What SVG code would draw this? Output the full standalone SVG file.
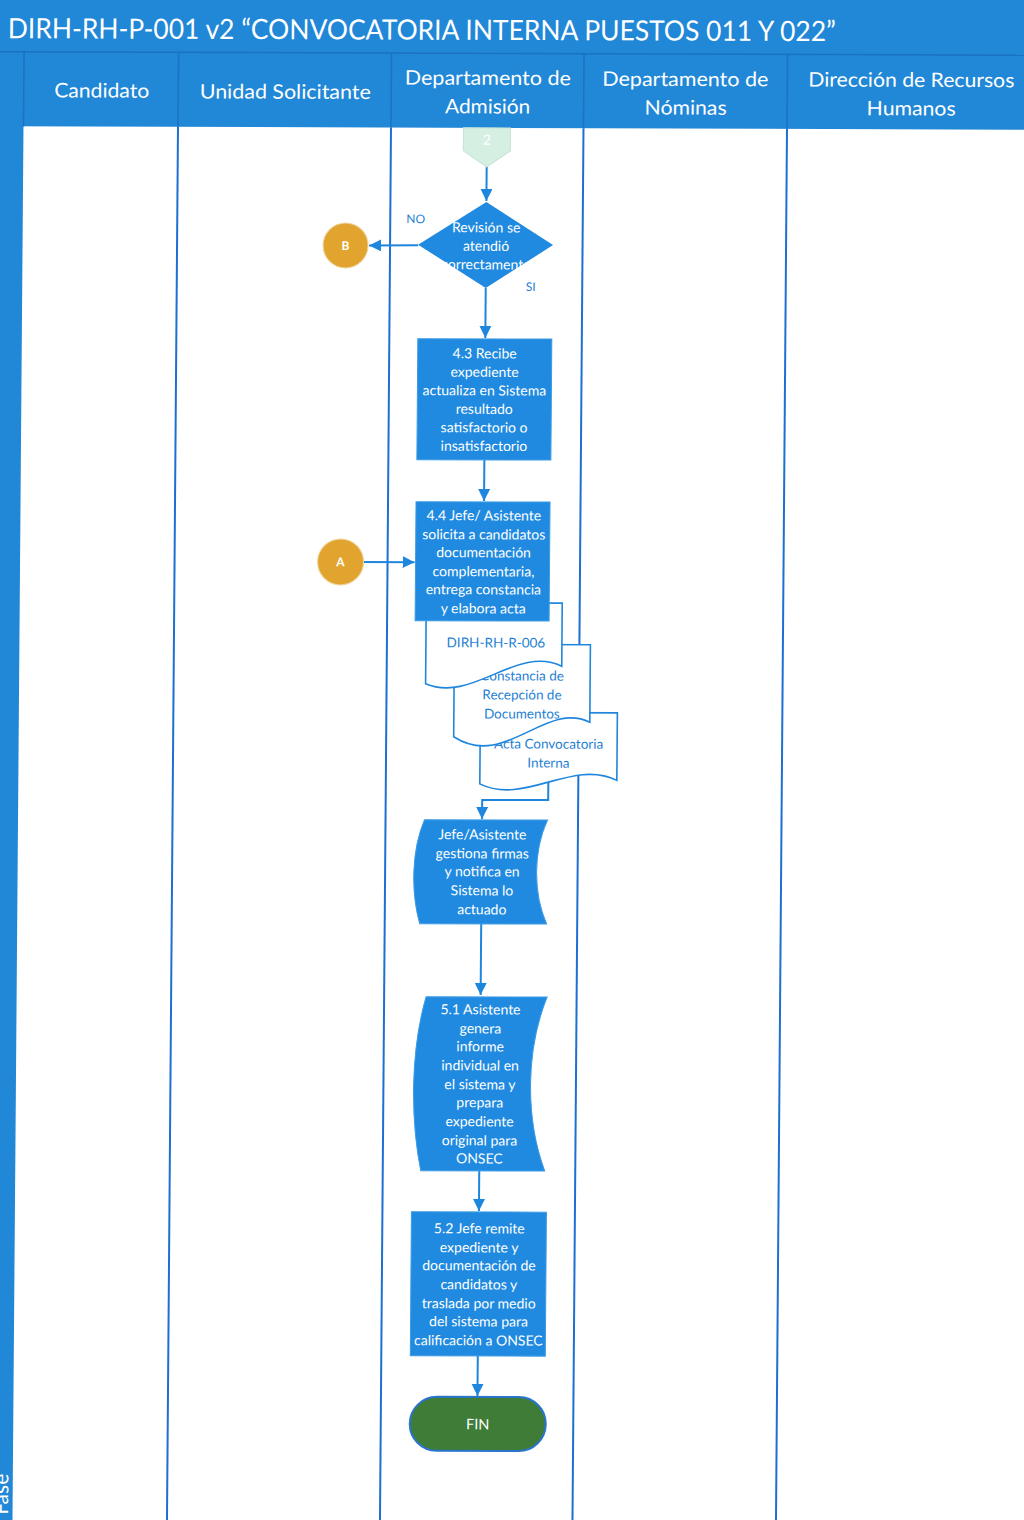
<svg xmlns="http://www.w3.org/2000/svg" width="1024" height="1520" viewBox="0 0 1024 1520">
  <style>
    .band { fill: #2187d7; }
    .hsep { stroke: #1a72c2; stroke-width: 1.5; fill: none; }
    .lane { stroke: #1d6fd2; stroke-width: 2; fill: none; }
    .title { font-family: Lato, "Open Sans", sans-serif; font-size: 28px; fill: #ffffff; }
    .hdr { font-family: Lato, "Open Sans", sans-serif; font-size: 20px; fill: #ffffff; text-anchor: middle; }
    .box { fill: #1f8ae0; stroke: #3d9be4; stroke-width: 1; }
    .ntx { font-family: Lato, "Open Sans", sans-serif; font-size: 14px; fill: #ffffff; text-anchor: middle; }
    .doc { fill: #ffffff; stroke: #1f86dd; stroke-width: 1.6; }
    .dtx { font-family: Lato, "Open Sans", sans-serif; font-size: 13.5px; fill: #1f7fd4; text-anchor: middle; }
    .lbl { font-family: Lato, "Open Sans", sans-serif; font-size: 12px; fill: #1f7fd4; text-anchor: middle; }
    .conn { stroke: #1f86dd; stroke-width: 2; fill: none; }
    .ref { fill: #e1a52f; stroke: #efd49a; stroke-width: 1; }
    .rtx { font-family: Lato, "Open Sans", sans-serif; font-size: 12px; fill: #ffffff; text-anchor: middle; font-weight: bold; }
  </style>
  <defs>
    <marker id="ah" markerUnits="userSpaceOnUse" markerWidth="14" markerHeight="14" refX="12" refY="6" orient="auto">
      <path d="M0,0 L12,6 L0,12 Z" fill="#1f86dd"/>
    </marker>
  </defs>

  <rect x="0" y="0" width="1024" height="1520" fill="#ffffff"/>

  <!-- the sheet sits slightly skewed on the page -->
  <g transform="matrix(1 0.0035 -0.0079 1 6 -1.8)">

    <!-- swimlane frame -->
    <g id="frame">
      <rect class="band" x="-30" y="-30" width="1090" height="158"/>
      <rect class="band" x="-30" y="-30" width="48.5" height="1600"/>
      <line class="hsep" x1="-30" y1="53.5" x2="1060" y2="53.5"/>
      <line class="hsep" x1="18.5" y1="53.5" x2="18.5" y2="128"/>
      <line class="hsep" x1="173" y1="53.5" x2="173" y2="128"/>
      <line class="hsep" x1="386" y1="53.5" x2="386" y2="128"/>
      <line class="hsep" x1="578.5" y1="53.5" x2="578.5" y2="128"/>
      <line class="hsep" x1="782" y1="53.5" x2="782" y2="128"/>
      <line class="lane" x1="173" y1="128" x2="173" y2="1560"/>
      <line class="lane" x1="386" y1="128" x2="386" y2="1560"/>
      <line class="lane" x1="578.5" y1="128" x2="578.5" y2="1560"/>
      <line class="lane" x1="782" y1="128" x2="782" y2="1560"/>
      <text class="title" x="2" y="40" textLength="828" lengthAdjust="spacingAndGlyphs">DIRH-RH-P-001 v2 “CONVOCATORIA INTERNA PUESTOS 011 Y 022”</text>
      <text class="hdr" x="96.5" y="99" textLength="95" lengthAdjust="spacingAndGlyphs">Candidato</text>
      <text class="hdr" x="280" y="99.5" textLength="171" lengthAdjust="spacingAndGlyphs">Unidad Solicitante</text>
      <text class="hdr" x="482.5" y="85" textLength="166" lengthAdjust="spacingAndGlyphs">Departamento de</text>
      <text class="hdr" x="482.5" y="113.5" textLength="85" lengthAdjust="spacingAndGlyphs">Admisión</text>
      <text class="hdr" x="680" y="85.5" textLength="166" lengthAdjust="spacingAndGlyphs">Departamento de</text>
      <text class="hdr" x="680.5" y="114" textLength="82" lengthAdjust="spacingAndGlyphs">Nóminas</text>
      <text class="hdr" x="906" y="85.5" textLength="206" lengthAdjust="spacingAndGlyphs">Dirección de Recursos</text>
      <text class="hdr" x="906" y="114" textLength="89" lengthAdjust="spacingAndGlyphs">Humanos</text>
      <text class="hdr" transform="translate(14 1520) rotate(-90)" x="24" y="0" style="font-size:21px">Fase</text>
    </g>

    <!-- connectors -->
    <g id="connectors">
      <line class="conn" x1="482" y1="167" x2="482" y2="201" marker-end="url(#ah)"/>
      <line class="conn" x1="414" y1="245.5" x2="365" y2="246" marker-end="url(#ah)"/>
      <line class="conn" x1="482" y1="288" x2="482" y2="338" marker-end="url(#ah)"/>
      <line class="conn" x1="482" y1="460" x2="482" y2="501" marker-end="url(#ah)"/>
      <line class="conn" x1="361" y1="562.5" x2="413" y2="562.5" marker-end="url(#ah)"/>
      <polyline class="conn" points="548.5,782 548.5,800 482.5,800 482.5,819" marker-end="url(#ah)"/>
      <line class="conn" x1="482.5" y1="923" x2="482.5" y2="995" marker-end="url(#ah)"/>
      <line class="conn" x1="482.5" y1="1171" x2="482.5" y2="1211" marker-end="url(#ah)"/>
      <line class="conn" x1="482.5" y1="1356" x2="482.5" y2="1396" marker-end="url(#ah)"/>
      <text class="lbl" x="411.5" y="223.5">NO</text>
      <text class="lbl" x="527" y="291">SI</text>
    </g>

    <!-- off-page connector 2 -->
    <g id="n-offpage-2">
      <path d="M458.5,128 H505.5 V151 L482,167 L458.5,151 Z" fill="#d6efe3" stroke="#c4e3d6" stroke-width="1"/>
      <text class="ntx" x="482" y="145">2</text>
    </g>

    <!-- decision -->
    <g id="n-revision">
      <path d="M482,202 L549,245 L482,288 L414,245 Z" fill="#1f8ae0"/>
      <text class="ntx" x="482" y="232.5">Revisión se</text>
      <text class="ntx" x="482" y="251">atendió</text>
      <text class="ntx" x="482" y="269.5">correctamente</text>
    </g>

    <!-- page references -->
    <g id="n-ref-b">
      <circle class="ref" cx="341.5" cy="246" r="22.5"/>
      <text class="rtx" x="341.5" y="250.5">B</text>
    </g>
    <g id="n-ref-a">
      <circle class="ref" cx="339" cy="562.5" r="23"/>
      <text class="rtx" x="339" y="567">A</text>
    </g>

    <!-- 4.3 -->
    <g id="n-4-3">
      <rect class="box" x="414.5" y="339" width="134" height="121"/>
      <text class="ntx" x="481.5" y="358.5">4.3 Recibe</text>
      <text class="ntx" x="481.5" y="377">expediente</text>
      <text class="ntx" x="481.5" y="395.5">actualiza en Sistema</text>
      <text class="ntx" x="481.5" y="414">resultado</text>
      <text class="ntx" x="481.5" y="432.5">satisfactorio o</text>
      <text class="ntx" x="481.5" y="451">insatisfactorio</text>
    </g>

    <!-- documents produced by 4.4 (back to front) -->
    <g id="n-doc-acta">
      <path class="doc" d="M480,712.5 H617 V780 C572,758 525,806 480,784 Z"/>
      <text class="dtx" x="548.5" y="748.5">Acta Convocatoria</text>
      <text class="dtx" x="548.5" y="767.5">Interna</text>
    </g>
    <g id="n-doc-constancia">
      <path class="doc" d="M453.5,644.5 H589.5 V722 C545,700 505,770 453.5,737 Z"/>
      <text class="dtx" x="521.5" y="680.5">Constancia de</text>
      <text class="dtx" x="521.5" y="699.5">Recepción de</text>
      <text class="dtx" x="521.5" y="718.5">Documentos</text>
    </g>
    <g id="n-doc-r006">
      <path class="doc" d="M425,603 H561 V666 C516,644 472,704 425,684 Z"/>
      <text class="dtx" x="495" y="647.5">DIRH-RH-R-006</text>
    </g>

    <!-- 4.4 -->
    <g id="n-4-4">
      <rect class="box" x="414" y="502" width="134" height="119"/>
      <text class="ntx" x="482" y="520.5">4.4 Jefe/ Asistente</text>
      <text class="ntx" x="482" y="539.5">solicita a candidatos</text>
      <text class="ntx" x="482" y="557.5">documentación</text>
      <text class="ntx" x="482" y="576.5">complementaria,</text>
      <text class="ntx" x="482" y="594.5">entrega constancia</text>
      <text class="ntx" x="482" y="613.5">y elabora acta</text>
    </g>

    <!-- gestiona firmas -->
    <g id="n-firmas">
      <path class="box" d="M425,820 H548 C534,851 534,893 548,924 H421 C412,893 412,851 425,820 Z"/>
      <text class="ntx" x="483" y="839.5">Jefe/Asistente</text>
      <text class="ntx" x="483" y="858.5">gestiona firmas</text>
      <text class="ntx" x="483" y="876.5">y notifica en</text>
      <text class="ntx" x="483" y="895.5">Sistema lo</text>
      <text class="ntx" x="483" y="914.5">actuado</text>
    </g>

    <!-- 5.1 -->
    <g id="n-5-1">
      <path class="box" d="M428,997 H549 C528,1050 528,1118 548,1171 H424 C413,1118 413,1050 428,997 Z"/>
      <text class="ntx" x="482.5" y="1014.5">5.1 Asistente</text>
      <text class="ntx" x="482.5" y="1033.5">genera</text>
      <text class="ntx" x="482.5" y="1051.5">informe</text>
      <text class="ntx" x="482.5" y="1070.5">individual  en</text>
      <text class="ntx" x="482.5" y="1089.5">el sistema y</text>
      <text class="ntx" x="482.5" y="1107.5">prepara</text>
      <text class="ntx" x="482.5" y="1126.5">expediente</text>
      <text class="ntx" x="482.5" y="1145.5">original para</text>
      <text class="ntx" x="482.5" y="1163.5">ONSEC</text>
    </g>

    <!-- 5.2 -->
    <g id="n-5-2">
      <rect class="box" x="415" y="1212" width="135" height="144"/>
      <text class="ntx" x="483" y="1233.5">5.2 Jefe remite</text>
      <text class="ntx" x="483" y="1252.5">expediente  y</text>
      <text class="ntx" x="483" y="1270.5">documentación de</text>
      <text class="ntx" x="483" y="1289.5">candidatos y</text>
      <text class="ntx" x="483" y="1308.5">traslada por medio</text>
      <text class="ntx" x="483" y="1326.5">del sistema para</text>
      <text class="ntx" x="483" y="1345.5">calificación a ONSEC</text>
    </g>

    <!-- end -->
    <g id="n-fin">
      <rect x="415" y="1397" width="136" height="54" rx="27" ry="27" fill="#3e7c37" stroke="#2a74cc" stroke-width="2"/>
      <text class="ntx" x="483" y="1429.5" style="font-size:14.5px">FIN</text>
    </g>
  </g>
</svg>
